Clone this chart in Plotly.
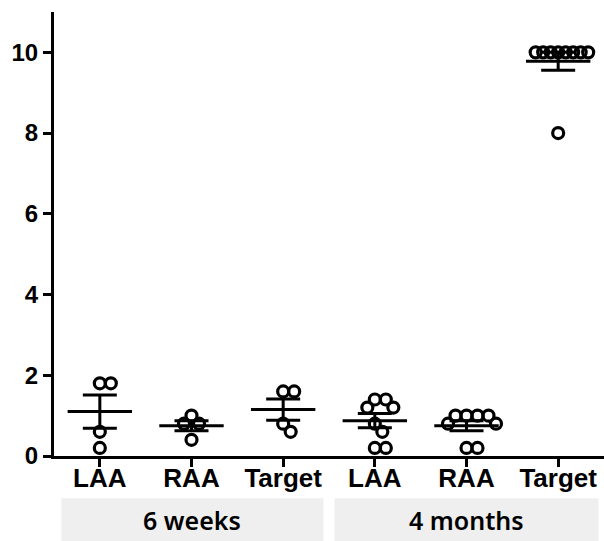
import numpy as np
import plotly.graph_objects as go

# ---- data ----
tick_labels = ["LAA", "RAA", "Target", "LAA", "RAA", "Target"]
period_labels = ["6 weeks", "4 months"]
w6_laa = [1.8, 1.8, 0.6, 0.2]
w6_raa = [1.0, 0.8, 0.8, 0.4]
w6_target = [1.6, 1.6, 0.8, 0.6]
m4_laa = [1.4, 1.4, 1.2, 1.2, 0.8, 0.6, 0.2, 0.2]
m4_raa = [1.0, 1.0, 1.0, 1.0, 0.8, 0.8, 0.2, 0.2]
m4_target = [10, 10, 10, 10, 10, 10, 10, 10, 8]
groups = [w6_laa, w6_raa, w6_target, m4_laa, m4_raa, m4_target]

# ---- geometry helpers ----
W, H = 604, 541
ML, MR, MT, MB = 54, 0, 12, 85
XR = [-0.5, 5.5]
YR = [0, 11]
px_x = (W - ML - MR) / (XR[1] - XR[0])
px_y = (H - MT - MB) / (YR[1] - YR[0])


def swarm(values, D):
    """Simple beeswarm layout: returns horizontal offsets (data units)."""
    order = sorted(range(len(values)), key=lambda i: -values[i])
    placed = []
    offs = [0.0] * len(values)
    step = 0.25
    for i in order:
        y = values[i] * px_y
        k = 0
        while True:
            cands = [0.0] if k == 0 else [k * step, -k * step]
            ok = None
            for dx in cands:
                if all((dx - px) ** 2 + (y - py) ** 2 >= D * D - 1e-9 for px, py in placed):
                    ok = dx
                    break
            if ok is not None:
                placed.append((ok, y))
                offs[i] = ok / px_x
                break
            k += 1
    return offs


fig = go.Figure()
FONT = "Liberation Sans, Arial, sans-serif"

for gi, vals in enumerate(groups):
    vals = list(vals)
    uniq, counts = np.unique(vals, return_counts=True)
    kmax = counts.max()
    D = 11.0 if kmax <= 3 else min(11.0, 52.0 / (kmax - 1))
    offs = swarm(vals, D)
    xs = [gi + o for o in offs]
    fig.add_trace(go.Scatter(
        x=xs, y=vals, mode="markers",
        marker=dict(symbol="circle-open", size=11, color="black",
                    line=dict(width=3.2, color="black")),
        cliponaxis=False, showlegend=False, hoverinfo="y"))
    arr = np.array(vals, dtype=float)
    mean = arr.mean()
    sem = arr.std(ddof=1) / np.sqrt(len(arr))
    # SEM bar
    fig.add_trace(go.Scatter(
        x=[gi], y=[mean], mode="markers",
        marker=dict(size=0.1, color="rgba(0,0,0,0)"),
        error_y=dict(type="data", array=[sem], visible=True, color="black",
                     thickness=3, width=17),
        cliponaxis=False, showlegend=False, hoverinfo="skip"))
    # mean line (line-ew symbol length = 1.4 * size)
    fig.add_trace(go.Scatter(
        x=[gi], y=[mean], mode="markers",
        marker=dict(symbol="line-ew", size=46, color="black",
                    line=dict(width=3, color="black")),
        cliponaxis=False, showlegend=False, hoverinfo="y"))

# period boxes below the axis
box_spans = [(-0.42, 2.44), (2.56, 5.44)]
for (x0, x1), lab in zip(box_spans, period_labels):
    fig.add_shape(type="rect", xref="x", yref="paper", x0=x0, x1=x1,
                  y0=-0.095, y1=-0.25, fillcolor="#efefef", line=dict(width=0),
                  layer="below")
    fig.add_annotation(x=(x0 + x1) / 2, y=-0.145, xref="x", yref="paper",
                       text=lab, showarrow=False, yanchor="middle",
                       font=dict(family="Noto Sans, sans-serif", size=25,
                                 color="black", weight=600))

fig.update_layout(
    width=W, height=H, autosize=False,
    margin=dict(l=ML, r=MR, t=MT, b=MB, pad=0),
    plot_bgcolor="white", paper_bgcolor="white",
    xaxis=dict(range=XR, tickmode="array", tickvals=list(range(6)),
               ticktext=tick_labels, showline=True, linewidth=3,
               linecolor="black", ticks="outside", ticklen=8, tickwidth=3,
               tickcolor="black", showgrid=False, zeroline=False,
               ticklabelstandoff=-11,
               tickfont=dict(family=FONT, size=26, color="black", weight="bold")),
    yaxis=dict(range=YR, tickvals=[0, 2, 4, 6, 8, 10], showline=True,
               linewidth=3, linecolor="black", ticks="outside", ticklen=8,
               tickwidth=3, tickcolor="black", showgrid=False, zeroline=False,
               tickfont=dict(family=FONT, size=24, color="black", weight="bold")),
)

fig.write_html("out.html", config={"displayModeBar": False},
               post_script="document.body.style.margin='0';")
